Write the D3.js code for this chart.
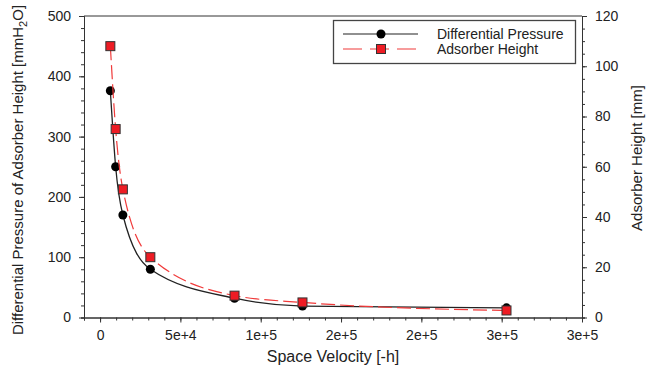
<!DOCTYPE html>
<html>
<head>
<meta charset="utf-8">
<script src="https://cdn.jsdelivr.net/npm/d3@7"></script>
<style>
    body { margin: 0; background: #fff; }
    text { font-family: Arial, "Liberation Sans", sans-serif; fill: #222; }
</style>
</head>
<body>
<div class="chart"></div>
<script>
// space velocity of each run, shared by both series
let velocity = [6400, 9700, 14200, 31300, 83700, 126000, 253000];
// left axis, mmH2O
let pressure = [376, 250, 170, 80, 32, 19, 16];
// right axis, mm
let adsorberHeight = [108, 75, 51, 24, 8.7, 6, 2.8];

let xTickValues = [0, 50000, 100000, 150000, 200000, 250000, 300000];
let xTickLabels = ["0", "5e+4", "1e+5", "2e+5", "2e+5", "3e+5", "3e+5"];
let leftTicks = [0, 100, 200, 300, 400, 500];
let rightTicks = [0, 20, 40, 60, 80, 100, 120];
let seriesNames = ["Differential Pressure", "Adsorber Height"];

let width = 660;
let height = 370;

let svg = d3.select(".chart")
    .append("svg")
    .attr("width", width)
    .attr("height", height);

let x = d3.scaleLinear().domain([-10000, 300000]).range([84, 582]);
let yLeft = d3.scaleLinear().domain([0, 500]).range([317.5, 16]);
let yRight = d3.scaleLinear().domain([0, 120]).range([317.5, 16]);

let axisColor = "#333";

// frame top line
svg.append("line")
    .attr("x1", x.range()[0]).attr("x2", x.range()[1])
    .attr("y1", yLeft(500)).attr("y2", yLeft(500))
    .attr("stroke", axisColor);

// bottom axis, minor ticks every 1e4
let xAxis = d3.axisBottom(x)
    .tickValues(d3.range(-10000, 300001, 10000))
    .tickSize(3)
    .tickFormat("");
svg.append("g")
    .attr("transform", "translate(0," + yLeft(0) + ")")
    .call(xAxis);
svg.append("g")
    .attr("transform", "translate(0," + yLeft(0) + ")")
    .call(d3.axisBottom(x)
        .tickValues(xTickValues)
        .tickSize(5)
        .tickSizeOuter(0)
        .tickPadding(8)
        .tickFormat(function(d, i) { return xTickLabels[i]; }));

// left axis
svg.append("g")
    .attr("transform", "translate(" + x.range()[0] + ",0)")
    .call(d3.axisLeft(yLeft).tickValues(d3.range(0, 501, 20)).tickSize(3).tickFormat(""));
svg.append("g")
    .attr("transform", "translate(" + x.range()[0] + ",0)")
    .call(d3.axisLeft(yLeft).tickValues(leftTicks).tickSize(5).tickSizeOuter(0).tickPadding(8));

// right axis
svg.append("g")
    .attr("transform", "translate(" + x.range()[1] + ",0)")
    .call(d3.axisRight(yRight).tickValues(d3.range(0, 121, 5)).tickSize(3).tickFormat(""));
svg.append("g")
    .attr("transform", "translate(" + x.range()[1] + ",0)")
    .call(d3.axisRight(yRight).tickValues(rightTicks).tickSize(5).tickSizeOuter(0).tickPadding(8));

svg.selectAll(".domain, .tick line").attr("stroke", axisColor);
svg.selectAll(".tick text")
    .attr("font-size", 14)
    .style("fill", "#222");

// axis titles
let leftTitle = svg.append("text")
    .attr("transform", "translate(23,170) rotate(-90)")
    .attr("text-anchor", "middle")
    .attr("font-size", 15);
leftTitle.append("tspan").text("Differential Pressure of Adsorber Height [mmH");
leftTitle.append("tspan").attr("font-size", 11).attr("dy", 4).text("2");
leftTitle.append("tspan").attr("dy", -4).text("O]");

svg.append("text")
    .attr("transform", "translate(642,158) rotate(-90)")
    .attr("text-anchor", "middle")
    .attr("font-size", 15)
    .text("Adsorber Height [mm]");

svg.append("text")
    .attr("x", 333)
    .attr("y", 362)
    .attr("text-anchor", "middle")
    .attr("font-size", 16)
    .text("Space Velocity [-h]");

// series
let pressureLine = d3.line()
    .x(function(d, i) { return x(velocity[i]); })
    .y(function(d) { return yLeft(d); })
    .curve(d3.curveMonotoneX);
let heightLine = d3.line()
    .x(function(d, i) { return x(velocity[i]); })
    .y(function(d) { return yRight(d); })
    .curve(d3.curveMonotoneX);

svg.append("path")
    .attr("d", pressureLine(pressure))
    .attr("fill", "none")
    .attr("stroke", "#222")
    .attr("stroke-width", 1.3);

svg.selectAll(".dot")
    .data(pressure)
    .enter()
    .append("circle")
    .attr("class", "dot")
    .attr("cx", function(d, i) { return x(velocity[i]); })
    .attr("cy", function(d) { return yLeft(d); })
    .attr("r", 4.5)
    .attr("fill", "#000");

svg.append("path")
    .attr("d", heightLine(adsorberHeight))
    .attr("fill", "none")
    .attr("stroke", "#f03a3a")
    .attr("stroke-width", 1.2)
    .attr("stroke-dasharray", "14,5");

svg.selectAll(".square")
    .data(adsorberHeight)
    .enter()
    .append("rect")
    .attr("class", "square")
    .attr("x", function(d, i) { return x(velocity[i]) - 4.5; })
    .attr("y", function(d) { return yRight(d) - 4.5; })
    .attr("width", 9)
    .attr("height", 9)
    .attr("fill", "#ee1c24")
    .attr("stroke", "#333")
    .attr("stroke-width", 1);

// legend
let legend = svg.append("g");
legend.append("rect")
    .attr("x", 333.5).attr("y", 20.5)
    .attr("width", 242).attr("height", 43)
    .attr("fill", "#fff")
    .attr("stroke", "#444")
    .attr("stroke-width", 1.3);

seriesNames.forEach(function(name, i) {
    let ly = 34 + i * 15;
    let line = legend.append("line")
        .attr("x1", 343).attr("x2", 418)
        .attr("y1", ly).attr("y2", ly)
        .attr("stroke-width", 1.2);
    if (i === 0) {
        line.attr("stroke", "#222");
        legend.append("circle")
            .attr("cx", 381).attr("cy", ly).attr("r", 4.5)
            .attr("fill", "#000");
    } else {
        line.attr("stroke", "#f03a3a").attr("stroke-dasharray", "19,8");
        legend.append("rect")
            .attr("x", 376.5).attr("y", ly - 4.5)
            .attr("width", 9).attr("height", 9)
            .attr("fill", "#ee1c24")
            .attr("stroke", "#333");
    }
    legend.append("text")
        .attr("x", 437)
        .attr("y", ly + 5)
        .attr("font-size", 14)
        .text(name);
});
</script>
</body>
</html>
